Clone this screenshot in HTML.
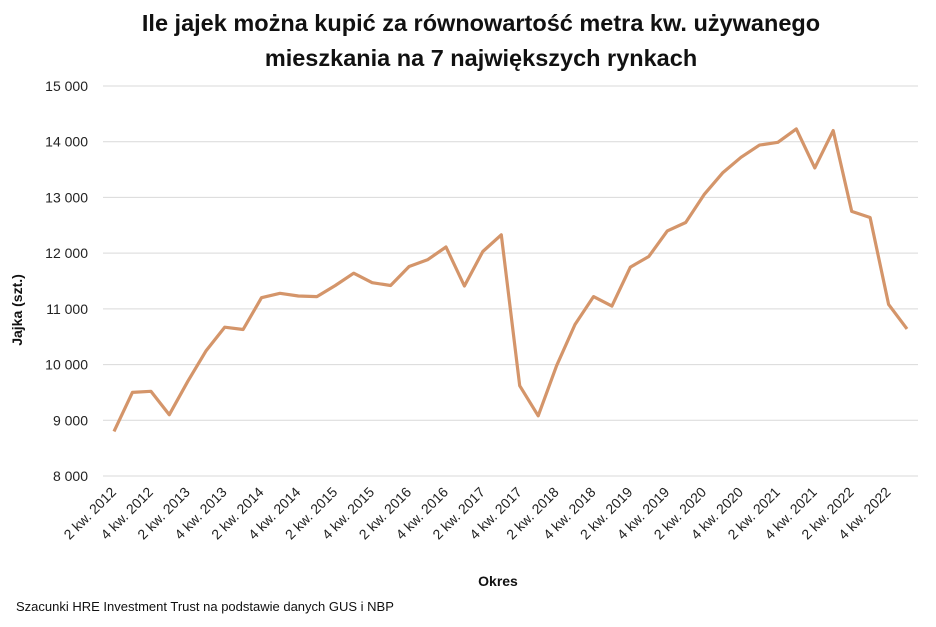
<!DOCTYPE html>
<html><head><meta charset="utf-8"><style>
body{margin:0;background:#fff;}
svg{display:block;font-family:"Liberation Sans",Arial,sans-serif;}
</style></head><body>
<svg id="chart" width="936" height="627">
<text x="481" y="31" text-anchor="middle" font-size="23.5" font-weight="bold" fill="#111"><tspan x="481" dy="0">Ile jajek można kupić za równowartość metra kw. używanego</tspan><tspan x="481" dy="35">mieszkania na 7 największych rynkach</tspan></text>
<g id="grid"></g><g id="yt"></g><g id="xt"></g>
<path id="line" fill="none" stroke="#D4956A" stroke-width="3.2" stroke-linejoin="round"/>
<text transform="translate(22,310) rotate(-90)" text-anchor="middle" font-size="14" font-weight="bold" fill="#111">Jajka (szt.)</text>
<text x="498" y="586" text-anchor="middle" font-size="14" font-weight="bold" fill="#111">Okres</text>
<text x="16" y="611" font-size="13" fill="#111">Szacunki HRE Investment Trust na podstawie danych GUS i NBP</text>
</svg>
<script>
const values=[8800,9500,9520,9100,9700,10250,10670,10630,11200,11280,11230,11220,11420,11640,11470,11420,11760,11880,12110,11410,12030,12330,9620,9080,9980,10720,11220,11050,11750,11940,12400,12550,13050,13440,13720,13940,13990,14230,13530,14200,12750,12640,11080,10640];
const yTicks=[8000,9000,10000,11000,12000,13000,14000,15000];
const xLabels=["2 kw. 2012","4 kw. 2012","2 kw. 2013","4 kw. 2013","2 kw. 2014","4 kw. 2014","2 kw. 2015","4 kw. 2015","2 kw. 2016","4 kw. 2016","2 kw. 2017","4 kw. 2017","2 kw. 2018","4 kw. 2018","2 kw. 2019","4 kw. 2019","2 kw. 2020","4 kw. 2020","2 kw. 2021","4 kw. 2021","2 kw. 2022","4 kw. 2022"];
const NS="http://www.w3.org/2000/svg";
const x=i=>114+i*(907-114)/(values.length-1);
const y=v=>476-(v-8000)*(476-86)/7000;
const g=document.getElementById('grid'),yt=document.getElementById('yt'),xt=document.getElementById('xt');
yTicks.forEach(t=>{
 const l=document.createElementNS(NS,'line');
 l.setAttribute('x1',103);l.setAttribute('x2',918);l.setAttribute('y1',y(t));l.setAttribute('y2',y(t));
 l.setAttribute('stroke','#d9d9d9');l.setAttribute('stroke-width','1');
 
 
 g.appendChild(l);
 const tx=document.createElementNS(NS,'text');
 tx.setAttribute('x',88);tx.setAttribute('y',y(t)+5);tx.setAttribute('text-anchor','end');
 tx.setAttribute('font-size','14');tx.setAttribute('fill','#222');
 tx.textContent=String(t).replace(/(\d+)(\d{3})$/,'$1 $2');
 
 
 yt.appendChild(tx);
});
xLabels.forEach((s,k)=>{
 const px=x(k*2)+3,py=493;
 const tx=document.createElementNS(NS,'text');
 tx.setAttribute('transform','translate('+px+','+py+') rotate(-45)');
 tx.setAttribute('text-anchor','end');tx.setAttribute('font-size','14');tx.setAttribute('fill','#222');
 tx.textContent=s;
 
 
 xt.appendChild(tx);
});
document.getElementById('line').setAttribute('d',values.map((v,i)=>(i?'L':'M')+x(i).toFixed(1)+','+y(v).toFixed(1)).join(''));
</script>
</body></html>
